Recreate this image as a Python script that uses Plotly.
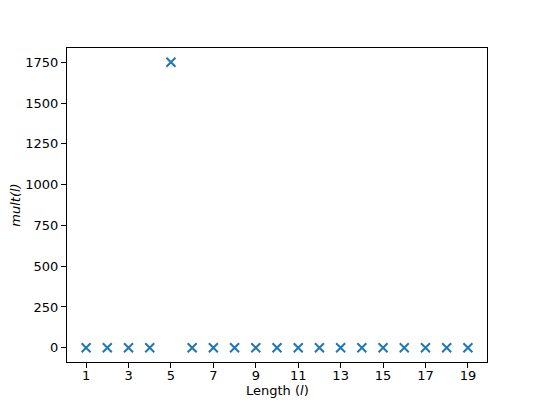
import plotly.graph_objects as go

lengths = list(range(1, 20))
mult = [0, 0, 0, 0, 1750, 0, 0, 0, 0, 0, 0, 0, 0, 0, 0, 0, 0, 0, 0]
x_ticks = [1, 3, 5, 7, 9, 11, 13, 15, 17, 19]
y_ticks = [0, 250, 500, 750, 1000, 1250, 1500, 1750]

fig = go.Figure(go.Scatter(
    x=lengths, y=mult, mode="markers",
    marker=dict(symbol="x-thin", size=9, color="#1f77b4",
                line=dict(width=2, color="#1f77b4")),
))

axis_common = dict(
    showgrid=False, zeroline=False, showline=True, linecolor="black", linewidth=1,
    mirror=True, ticks="outside", ticklen=5, tickwidth=1, tickcolor="black",
    tickfont=dict(family="DejaVu Sans", size=13, color="black"),
    automargin=False,
)

fig.update_xaxes(range=[0.1, 19.9], tickvals=x_ticks, ticklabelstandoff=-4, **axis_common)
fig.update_yaxes(range=[-87.5, 1837.5], tickvals=y_ticks,
                 title=dict(text="<i>mult(l)</i>", font=dict(family="DejaVu Sans", size=13, color="black"), standoff=6),
                 **axis_common)

fig.add_annotation(
    text="Length (<i>l</i>)", xref="paper", yref="paper", x=0.5, y=0,
    xanchor="center", yanchor="top", yshift=-19, showarrow=False,
    font=dict(family="DejaVu Sans", size=13, color="black"),
)

fig.update_layout(
    width=531, height=398,
    margin=dict(l=59, r=52, t=40, b=44),
    plot_bgcolor="white", paper_bgcolor="white",
    showlegend=False,
)

fig.write_html("out.html")
